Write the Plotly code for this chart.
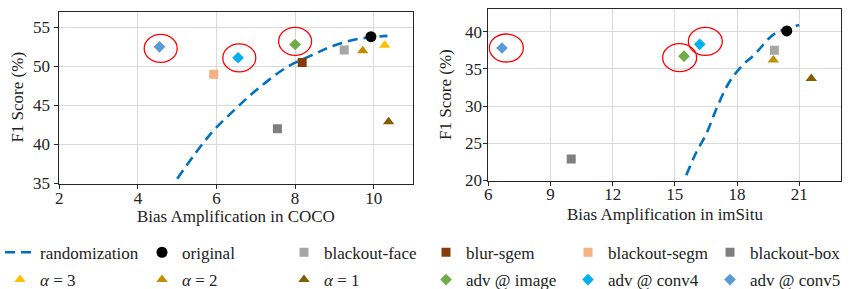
import plotly.graph_objects as go

# ---------------- data ----------------
coco_rand_x = [5.0, 5.84, 6.43, 7.0, 7.79, 8.5, 8.98, 9.6, 10.35]
coco_rand_y = [35.6, 41.3, 44.3, 46.9, 49.9, 51.6, 52.65, 53.5, 53.9]
imsitu_rand_x = [15.55, 16.0, 16.52, 17.0, 17.58, 18.2, 18.87, 19.8, 21.0]
imsitu_rand_y = [20.7, 23.6, 26.3, 29.6, 33.0, 35.3, 37.0, 39.7, 40.9]

series_names = ["original", "blackout-face", "blur-sgem", "blackout-segm", "blackout-box",
                "<i>α</i> = 3", "<i>α</i> = 2", "<i>α</i> = 1",
                "adv @ image", "adv @ conv4", "adv @ conv5"]
coco_x = [9.93, 9.25, 8.18, 5.93, 7.55, 10.28, 9.72, 10.38, 8.0, 6.55, 4.55]
coco_y = [53.8, 52.1, 50.5, 49.0, 42.0, 52.7, 52.0, 42.9, 52.8, 51.1, 52.5]
imsitu_x = [20.4, 19.8, None, None, 10.0, None, 19.75, 21.58, 15.44, 16.2, 6.66]
imsitu_y = [40.1, 37.5, None, None, 22.9, None, 36.2, 33.7, 36.7, 38.3, 37.8]

coco_highlight = [(4.58, 52.3), (6.58, 51.08), (8.0, 53.2)]
imsitu_highlight = [(6.87, 37.8), (15.23, 36.5), (16.47, 38.7)]

coco_xticks = [2, 4, 6, 8, 10]
coco_yticks = [35, 40, 45, 50, 55]
imsitu_xticks = [6, 9, 12, 15, 18, 21]
imsitu_yticks = [20, 25, 30, 35, 40]

# ---------------- styles ----------------
colors = ["#000000", "#A6A6A6", "#843C0C", "#F4B183", "#7F7F7F",
          "#FFC000", "#BF9000", "#7F6000", "#70AD47", "#00B0F0", "#5B9BD5"]
symbols = ["circle", "square", "square", "square", "square",
           "triangle-up", "triangle-up", "triangle-up", "diamond", "diamond", "diamond"]
sizes = [11, 9, 9, 9, 9, 10, 10, 10, 9, 9, 9]
legend_rows = ["legend", "legend", "legend", "legend", "legend",
               "legend2", "legend2", "legend2", "legend2", "legend2", "legend2"]
FONT = "Liberation Serif"
W, H = 856, 289

fig = go.Figure()
fig.add_trace(go.Scatter(x=coco_rand_x, y=coco_rand_y, mode="lines", name="randomization",
                         line=dict(color="#0070C0", width=2.6, dash="10px,6px", shape="spline"),
                         legendgroup="rand", legend="legend", xaxis="x", yaxis="y"))
fig.add_trace(go.Scatter(x=imsitu_rand_x, y=imsitu_rand_y, mode="lines", name="randomization",
                         line=dict(color="#0070C0", width=2.6, dash="10px,6px", shape="spline"),
                         legendgroup="rand", showlegend=False, xaxis="x2", yaxis="y2"))
for i, nm in enumerate(series_names):
    mk = dict(color=colors[i], symbol=symbols[i], size=sizes[i])
    fig.add_trace(go.Scatter(x=[coco_x[i]], y=[coco_y[i]], mode="markers", name=nm, marker=mk,
                             legendgroup=nm, legend=legend_rows[i], xaxis="x", yaxis="y"))
    if imsitu_x[i] is not None:
        fig.add_trace(go.Scatter(x=[imsitu_x[i]], y=[imsitu_y[i]], mode="markers", name=nm, marker=mk,
                                 legendgroup=nm, showlegend=False, xaxis="x2", yaxis="y2"))

shapes = []
for (cx, cy) in coco_highlight:
    shapes.append(dict(type="circle", xref="x", yref="y", xsizemode="pixel", ysizemode="pixel",
                       xanchor=cx, yanchor=cy, x0=-16.5, x1=16.5, y0=-14, y1=14,
                       line=dict(color="#FF0000", width=1.3)))
for (cx, cy) in imsitu_highlight:
    shapes.append(dict(type="circle", xref="x2", yref="y2", xsizemode="pixel", ysizemode="pixel",
                       xanchor=cx, yanchor=cy, x0=-17, x1=17, y0=-14, y1=14,
                       line=dict(color="#FF0000", width=1.3)))

axis_common = dict(showgrid=True, gridcolor="#D9D9D9", gridwidth=1, showline=True, linecolor="#262626",
                   linewidth=1, mirror=True, ticks="outside", ticklen=4, tickwidth=1,
                   tickcolor="#262626", zeroline=False, automargin=False,
                   tickfont=dict(family=FONT, size=17, color="#222"))

leg_common = dict(orientation="h", xanchor="left", yanchor="middle",
                  font=dict(family=FONT, size=17, color="#222"),
                  entrywidth=97, entrywidthmode="pixels", itemclick=False,
                  bgcolor="rgba(0,0,0,0)", borderwidth=0)

fig.update_layout(
    template="none",
    width=W, height=H, margin=dict(l=0, r=0, t=0, b=0, autoexpand=False),
    paper_bgcolor="white", plot_bgcolor="white",
    font=dict(family=FONT, size=17, color="#222"),
    xaxis=dict(domain=[59.3 / W, 413 / W], range=[2, 11], tickvals=coco_xticks, anchor="y",
               ticklabelstandoff=-5, **axis_common),
    yaxis=dict(domain=[1 - 183.5 / H, 1 - 11.7 / H], range=[35, 57], tickvals=coco_yticks, anchor="x",
               ticklabelstandoff=1, **axis_common),
    xaxis2=dict(domain=[488.3 / W, 840.7 / W], range=[6, 23], tickvals=imsitu_xticks, anchor="y2",
                ticklabelstandoff=-6, **axis_common),
    yaxis2=dict(domain=[1 - 180.5 / H, 1 - 9.3 / H], range=[20, 43], tickvals=imsitu_yticks, anchor="x2",
                ticklabelstandoff=-2, **axis_common),
    shapes=shapes,
    showlegend=True,
    legend=dict(x=0, y=1 - 252.7 / H, **leg_common),
    legend2=dict(x=0, y=1 - 280 / H, **leg_common),
    annotations=[
        dict(text="Bias Amplification in COCO", x=0.5, xref="x domain", y=1 - 216 / H, yref="paper",
             yanchor="middle", xanchor="center", showarrow=False, font=dict(family=FONT, size=17)),
        dict(text="Bias Amplification in imSitu", x=0.5, xref="x2 domain", y=1 - 214 / H, yref="paper",
             yanchor="middle", xanchor="center", showarrow=False, font=dict(family=FONT, size=17)),
        dict(text="F1 Score (%)", textangle=-90, x=18 / W, xref="paper", y=0.5, yref="y domain",
             xanchor="center", yanchor="middle", showarrow=False, font=dict(family=FONT, size=17)),
        dict(text="F1 Score (%)", textangle=-90, x=446 / W, xref="paper", y=0.5, yref="y2 domain",
             xanchor="center", yanchor="middle", showarrow=False, font=dict(family=FONT, size=17)),
    ],
)

fig.write_html("out.html", config={"displayModeBar": False},
               post_script="document.body.style.margin='0';document.body.style.overflow='hidden';")
